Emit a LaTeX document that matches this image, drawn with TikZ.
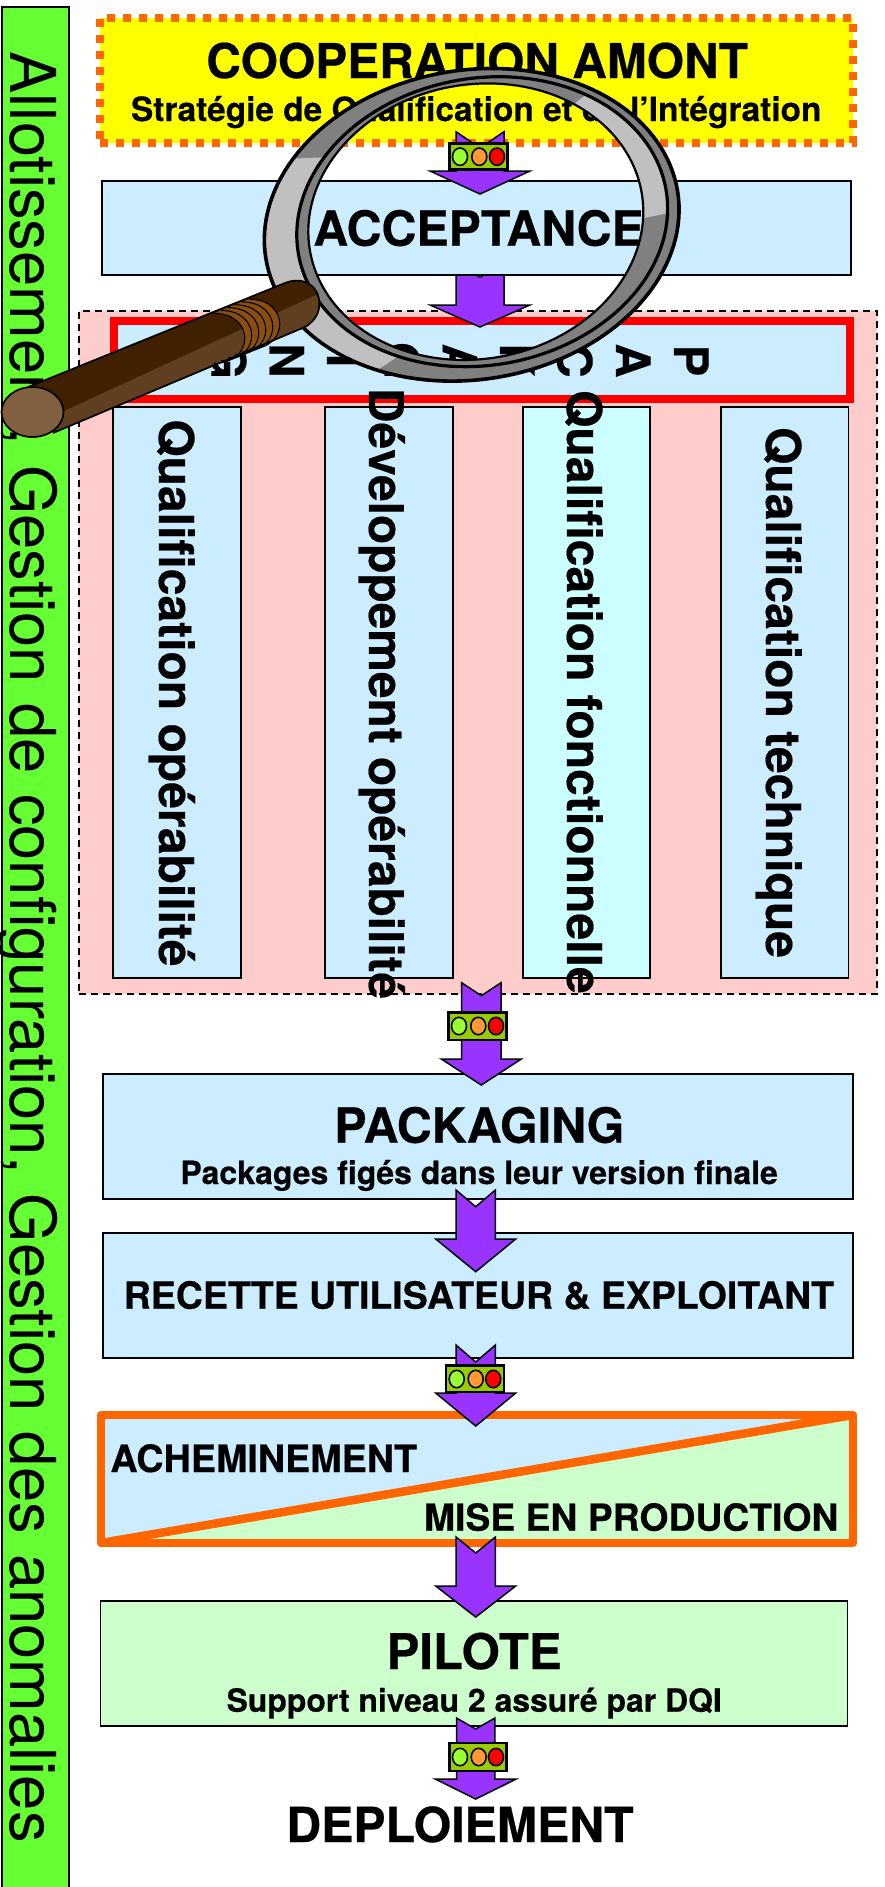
\documentclass[tikz,border=0pt]{standalone}
\usepackage{graphicx}
\usepackage{fontspec}
\setmainfont{TeX Gyre Heros}[BoldFeatures={FakeBold=0.4}]
\definecolor{cyellow}{HTML}{FFFF00}
\definecolor{cblue}{HTML}{CCECFF}
\definecolor{ccyan}{HTML}{CCFFFF}
\definecolor{cgreen}{HTML}{CCFFCC}
\definecolor{cpink}{HTML}{FFCCCC}
\definecolor{clime}{HTML}{66FF33}
\definecolor{corange}{HTML}{FF6600}
\definecolor{cpurple}{HTML}{9933FF}
\definecolor{clight}{HTML}{99CC00}
\definecolor{lgreen}{HTML}{99FF33}
\definecolor{lorange}{HTML}{FF9933}
\definecolor{gdark}{HTML}{808080}
\definecolor{glight}{HTML}{C0C0C0}
\definecolor{hdark}{HTML}{402000}
\definecolor{hmid}{HTML}{603F20}
\definecolor{hcap}{HTML}{806040}
\definecolor{hthread}{HTML}{8A4F10}
\tikzset{
  box/.style={draw=black,line width=1.7pt,fill=cblue,inner sep=0pt,outer sep=0pt},
  txt/.style={inner sep=0pt,outer sep=0pt,anchor=base west,font=\bfseries},
  rtxt/.style={txt,rotate=-90},
  letter/.style={inner sep=0pt,outer sep=0pt,anchor=base,rotate=-90,font=\bfseries},
  barrow/.style={draw=black,line width=1.5pt,fill=cpurple,line join=miter},
}
% name, style, x1,y1,x2,y2
\newcommand\rectnode[6]{\node[box,#2,minimum width={(#5-#3)*1pt},minimum height={(#6-#4)*1pt}] (#1) at ({(#3+#5)/2},{(#4+#6)/2}) {};}
% name, style, x, y, width, size, text
\newcommand\fittext[7]{\node[#2] (#1) at (#3,#4) {\resizebox{#5pt}{!}{\fontsize{#6}{#6}\selectfont #7}};}
% cx, half tail, half head, top, notch, base, tip
\newcommand\blockarrow[7]{\draw[barrow] ({#1-#2},#4) -- (#1,#5) -- ({#1+#2},#4) -- ({#1+#2},#6) -- ({#1+#3},#6) -- (#1,#7) -- ({#1-#3},#6) -- ({#1-#2},#6) -- cycle;}
% x1,y1,x2,y2,yc,c1,c2,c3
\newcommand\tlight[8]{\draw[line width=2.6pt,fill=clight] (#1,#2) rectangle (#3,#4);
  \draw[line width=1.6pt,fill=lgreen] (#6,#5) ellipse [x radius=7.5,y radius=8.7];
  \draw[line width=1.6pt,fill=lorange] (#7,#5) ellipse [x radius=7.5,y radius=8.7];
  \draw[line width=1.6pt,fill=red] (#8,#5) ellipse [x radius=7.5,y radius=8.7];}
\begin{document}
\begin{tikzpicture}[x=1pt,y=-1pt,
  declare function={
    eax(\t)=471.7+208.6*cos(\t)*cos(9.3)+154.7*sin(\t)*sin(9.3);
    eay(\t)=224.8-208.6*cos(\t)*sin(9.3)+154.7*sin(\t)*cos(9.3);
    ebx(\t)=482.2+186.6*cos(\t)*cos(10)+143.5*sin(\t)*sin(10);
    eby(\t)=221.7-186.6*cos(\t)*sin(10)+143.5*sin(\t)*cos(10);
    ecx(\t)=475.8+168.4*cos(\t)*cos(10.2)+137.2*sin(\t)*sin(10.2);
    ecy(\t)=221.7-168.4*cos(\t)*sin(10.2)+137.2*sin(\t)*cos(10.2);
  }]
\useasboundingbox (0,0) rectangle (884,1887);
\fill[white] (0,0) rectangle (884,1887);
% side bar
\rectnode{bar}{fill=clime}{1.7}{7}{68.8}{1895}
\fittext{bartxt}{txt,rotate=-90,font=\normalfont}{10}{51.7}{1791}{68}{\spaceskip=0.32em Allotissement, Gestion de configuration, Gestion des anomalies}
% upper box
\node[inner sep=0pt,outer sep=0pt,fill=cyellow,draw=corange,line width=7.5pt,dash pattern=on 8pt off 8pt,minimum width=753pt,minimum height=125pt] (coop) at (476.5,80.5) {};
\fittext{cooptxt}{txt}{206.3}{78}{541.6}{48}{COOPERATION AMONT}
\fittext{coopsub}{txt}{131}{121}{690.4}{31.6}{Stratégie de Qualification et de l’Intégration}
% pink zone
\node[draw=black,line width=1.6pt,fill=cpink,dash pattern=on 7pt off 5pt,inner sep=0pt,outer sep=0pt,minimum width=798pt,minimum height=683pt] (zone) at (478,652.5) {};
\rectnode{capbox}{draw=red,line width=8pt}{113.5}{321}{850}{399}
\rectnode{col1}{}{113.3}{407}{241}{977.7}
\rectnode{col2}{}{325}{407}{453}{977.7}
\rectnode{col3}{fill=ccyan}{523}{407}{650}{977.7}
\rectnode{col4}{}{721}{407}{848.5}{977.7}
\foreach \nm/\ch/\bx in {a/P/674,b/A/616,c/C/557.5,d/K/500,e/A/442.6,f/G/384.7,g/I/327,h/N/269.5,i/G/211.4}{
  \node[letter] (cap\nm) at (\bx,360.5) {\fontsize{47.5}{47.5}\selectfont\ch};
}
\fittext{t1}{rtxt}{159}{419.3}{547.1}{47}{Qualification opérabilité}
\fittext{t2}{rtxt}{369}{388}{611}{47}{Développement opérabilité}
\fittext{t3}{rtxt}{567}{390}{603.7}{47}{Qualification fonctionnelle}
\fittext{t4}{rtxt}{766}{427}{531}{47}{Qualification technique}
% acceptance
\blockarrow{480}{24}{50}{262}{277.5}{305}{327}
\rectnode{acc}{}{102}{181}{851.3}{275}
\fittext{acctxt}{txt}{313.3}{245.7}{330.5}{47.5}{ACCEPTANCE}
\blockarrow{480}{24}{50}{131.7}{148}{171}{194}
\tlight{449.7}{143.3}{507.3}{169.3}{156.7}{460}{479.3}{497}
% packaging
\rectnode{pack}{}{102.7}{1074}{853}{1199}
\fittext{packtxt}{txt}{334.3}{1142.7}{290}{47.5}{PACKAGING}
\fittext{packsub}{txt}{180.4}{1184}{597.4}{31}{Packages figés dans leur version finale}
\blockarrow{481.3}{19.7}{40}{982.7}{995.7}{1059}{1085}
\tlight{448.3}{1012.7}{506.7}{1040}{1026}{459}{478.3}{496}
% recette
\rectnode{rec}{}{102.7}{1233}{853}{1358}
\fittext{rectxt}{txt}{123.8}{1308.7}{710.2}{36.7}{RECETTE UTILISATEUR \& EXPLOITANT}
\blockarrow{475.7}{19.7}{40}{1190}{1206.7}{1239}{1271.7}
% acheminement
\fill[cblue] (101,1415) -- (853,1415) -- (101,1543) -- cycle;
\fill[cgreen] (853,1415) -- (853,1543) -- (101,1543) -- cycle;
\draw[corange,line width=8.5pt] (101,1543) -- (853,1415);
\node[draw=corange,line width=8.5pt,line join=round,inner sep=0pt,outer sep=0pt,minimum width=752pt,minimum height=128pt] (ach) at (477,1479) {};
\fittext{achtxt}{txt}{110.4}{1472}{306.6}{36.7}{ACHEMINEMENT}
\fittext{mistxt}{txt}{424}{1530.7}{414.4}{36.7}{MISE EN PRODUCTION}
\blockarrow{475.7}{19.7}{40}{1345}{1362}{1393}{1426}
\tlight{446}{1365.7}{504}{1392}{1379}{456.7}{475.7}{493.3}
% pilote
\rectnode{pil}{fill=cgreen}{100.4}{1601}{847.4}{1726}
\fittext{piltxt}{txt}{386.6}{1669}{175}{47.5}{PILOTE}
\fittext{pilsub}{txt}{226.6}{1711.7}{495.2}{31}{Support niveau 2 assuré par DQI}
\blockarrow{475.7}{19.7}{40}{1537}{1553}{1586}{1617}
\blockarrow{475.7}{19.2}{40.5}{1718}{1729}{1779}{1799}
\tlight{449.3}{1743}{506.3}{1771}{1757}{460}{478.7}{496}
\fittext{deptxt}{txt}{286.3}{1842}{347.3}{47.5}{DEPLOIEMENT}
% magnifying glass: ring
\fill[gdark,even odd rule] plot[domain=0:360,samples=145] ({eax(\x)},{eay(\x)}) -- cycle plot[domain=0:360,samples=145] ({ecx(\x)},{ecy(\x)}) -- cycle;
\fill[glight] plot[domain=124:217.5,samples=40] ({eax(\x)},{eay(\x)}) -- plot[domain=219.3:124.7,samples=40] ({ebx(\x)},{eby(\x)}) -- cycle;
\fill[glight] plot[domain=-48.2:9.6,samples=30] ({ebx(\x)},{eby(\x)}) -- plot[domain=11:-45.8,samples=30] ({ecx(\x)},{ecy(\x)}) -- cycle;
\draw[line width=2.2pt] plot[domain=0:360,samples=145] ({ecx(\x)},{ecy(\x)}) -- cycle;
\draw[line width=3.2pt] plot[domain=0:360,samples=145] ({ebx(\x)},{eby(\x)}) -- cycle;
\draw[line width=3.6pt] plot[domain=0:360,samples=145] ({eax(\x)},{eay(\x)}) -- cycle;
% handle
\fill[hdark] (28,387) -- (285,283) .. controls (305,275) and (322,288) .. (319,308) .. controls (318,316) and (312,323) .. (305,327) -- (53,433) -- cycle;
\fill[hmid] (62,412) -- (316,295) .. controls (320,300) and (320,305) .. (319,308) .. controls (318,316) and (312,323) .. (305,327) -- (53,433) -- cycle;
\fill[hthread] (214,313.3) .. controls (255,313.3) and (255,363.3) .. (214,363.3) -- (249,349.1) .. controls (290,349.1) and (290,299.1) .. (249,299.1) -- cycle;
\foreach \cx in {214,221,228,235,242,249}{
  \pgfmathsetmacro\cyt{412-0.405*(\cx-32)-25}
  \pgfmathsetmacro\cyb{412-0.405*(\cx-32)+25}
  \pgfmathsetmacro\cxc{\cx+41}
  \draw[line width=1.1pt] (\cx,\cyt) .. controls (\cxc,\cyt) and (\cxc,\cyb) .. (\cx,\cyb);
}
\draw[line width=1.7pt] (28,387) -- (285,283) .. controls (305,275) and (322,288) .. (319,308) .. controls (318,316) and (312,323) .. (305,327) -- (53,433);
\draw[line width=1.7pt,fill=hcap] (32.5,412) ellipse [x radius=31,y radius=25];
\end{tikzpicture}
\end{document}
